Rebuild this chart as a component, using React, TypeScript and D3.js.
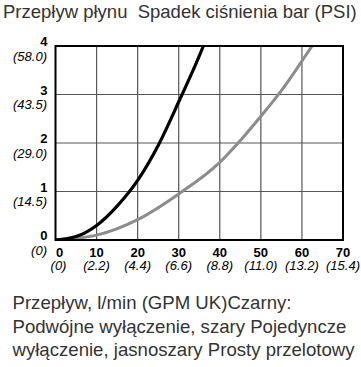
import React from "react";
import * as d3 from "d3";

const titleText = "Przepływ płynu\u00a0 Spadek ciśnienia bar (PSI)";
const footerLines = [
  "Przepływ, l/min (GPM UK)Czarny:",
  "Podwójne wyłączenie, szary Pojedyncze",
  "wyłączenie, jasnoszary Prosty przelotowy",
];
const xTicks = [0, 10, 20, 30, 40, 50, 60, 70];
const xSubLabels = ["(0)", "(2.2)", "(4.4)", "(6.6)", "(8.8)", "(11.0)", "(13.2)", "(15.4)"];
const yTicks = [0, 1, 2, 3, 4];
const ySubLabels = ["(0)", "(14.5)", "(29.0)", "(43.5)", "(58.0)"];

const blackFlow = [0, 5, 10, 15, 20, 25, 30, 36, 38];
const blackBar = [0, 0.07, 0.3, 0.7, 1.23, 1.95, 2.85, 4, 4.45];
const grayFlow = [0, 10, 20, 30, 40, 45, 50, 55, 62.5, 65];
const grayBar = [0, 0.1, 0.42, 0.95, 1.6, 2.05, 2.55, 3.08, 4, 4.3];

const W = 361;
const H = 367;
const left = 55.5;
const right = 343;
const top = 46;
const bottom = 240;

export default function App() {
  const x = d3.scaleLinear().domain([0, 70]).range([left, right]);
  const y = d3.scaleLinear().domain([0, 4]).range([bottom, top]);
  const line = d3
    .line<[number, number]>()
    .x((d) => x(d[0]))
    .y((d) => y(d[1]))
    .curve(d3.curveMonotoneX);
  const blackPts = blackFlow.map((f, i) => [f, blackBar[i]] as [number, number]);
  const grayPts = grayFlow.map((f, i) => [f, grayBar[i]] as [number, number]);
  const font = "'Liberation Sans', Arial, sans-serif";

  return (
    <svg
      width={W}
      height={H}
      style={{ position: "absolute", left: 0, top: 0, background: "#fff" }}
      fontFamily={font}
    >
      <rect x={0} y={0} width={W} height={H} fill="#fff" />
      <text x={3} y={17.5} fontSize={18.5} fill="#333">
        {titleText}
      </text>
      <defs>
        <clipPath id="plotClip">
          <rect x={left} y={top} width={right - left} height={bottom - top} />
        </clipPath>
      </defs>
      {xTicks.slice(1, -1).map((t) => (
        <line key={"gx" + t} x1={x(t)} x2={x(t)} y1={top} y2={bottom} stroke="#555" strokeWidth={1.2} />
      ))}
      {yTicks.slice(1, -1).map((t) => (
        <line key={"gy" + t} x1={left} x2={right} y1={y(t)} y2={y(t)} stroke="#555" strokeWidth={1.2} />
      ))}
      <g clipPath="url(#plotClip)">
        <path d={line(grayPts) || ""} fill="none" stroke="#8c8c8c" strokeWidth={3} />
        <path d={line(blackPts) || ""} fill="none" stroke="#000" strokeWidth={3.2} />
      </g>
      <rect x={left} y={top} width={right - left} height={bottom - top} fill="none" stroke="#000" strokeWidth={2} />
      {yTicks.map((t, i) => (
        <g key={"yl" + t}>
          <text x={47.5} y={y(t)} textAnchor="end" fontSize={13} fontWeight="bold" fill="#000">
            {t}
          </text>
          <text x={47} y={y(t) + 14.5} textAnchor="end" fontSize={13} fontStyle="italic" fill="#000">
            {ySubLabels[i]}
          </text>
        </g>
      ))}
      {xTicks.map((t, i) => (
        <g key={"xl" + t}>
          <text x={x(t) + (t === 0 ? 4 : 0)} y={256.5} textAnchor="middle" fontSize={13} fontWeight="bold" fill="#000">
            {t}
          </text>
          <text x={x(t) + (t === 0 ? 3 : 0)} y={270} textAnchor="middle" fontSize={13} fontStyle="italic" fill="#000">
            {xSubLabels[i]}
          </text>
        </g>
      ))}
      {footerLines.map((s, i) => (
        <text key={"f" + i} x={12.5} y={309 + i * 23.5} fontSize={18.6} fill="#333">
          {s}
        </text>
      ))}
    </svg>
  );
}
